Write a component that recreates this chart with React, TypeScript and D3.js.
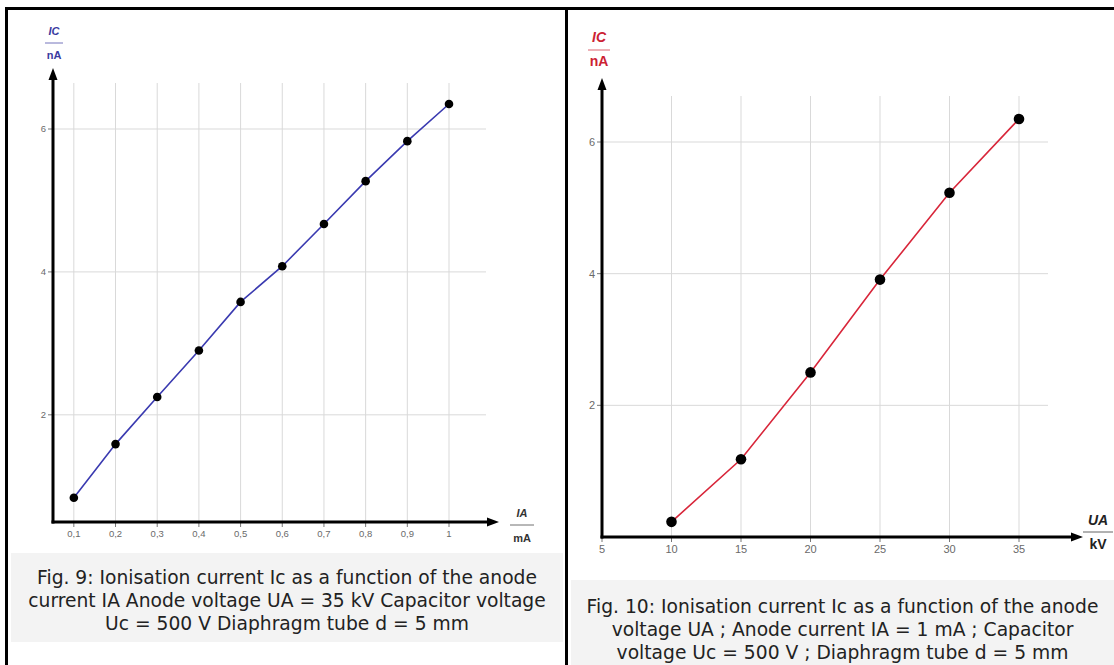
import * as d3 from 'd3';

// Fig. 9: ionisation current vs anode current
const anodeCurrent = [0.1, 0.2, 0.3, 0.4, 0.5, 0.6, 0.7, 0.8, 0.9, 1.0];
const ionCurrentA = [0.84, 1.59, 2.25, 2.9, 3.58, 4.08, 4.67, 5.27, 5.83, 6.35];
const ticksA = ['0,1', '0,2', '0,3', '0,4', '0,5', '0,6', '0,7', '0,8', '0,9', '1'];

// Fig. 10: ionisation current vs anode voltage
const anodeVoltage = [10, 15, 20, 25, 30, 35];
const ionCurrentB = [0.23, 1.18, 2.5, 3.91, 5.23, 6.35];
const ticksBx = [5, 10, 15, 20, 25, 30, 35];
const ticksY = [2, 4, 6];

const captionA = [
  'Fig. 9: Ionisation current Ic as a function of the anode',
  'current IA Anode voltage UA = 35 kV Capacitor voltage',
  'Uc = 500 V Diaphragm tube d = 5 mm',
];
const captionB = [
  'Fig. 10: Ionisation current Ic as a function of the anode',
  'voltage UA ; Anode current IA = 1 mA ; Capacitor',
  'voltage Uc = 500 V ; Diaphragm tube d = 5 mm',
];

const W = 1114;
const H = 665;

type Frac = { x: number; top: number; rule: number; bottom: number; size: number; half: number; color: string; a: string; b: string };

type ChartProps = {
  xs: number[];
  ys: number[];
  xTicks: number[];
  xTickText: string[];
  x: d3.ScaleLinear<number, number>;
  y: d3.ScaleLinear<number, number>;
  gridTop: number;
  gridRight: number;
  arrowTop: number;
  arrowRight: number;
  color: string;
  lineWidth: number;
  dotR: number;
  tickFont: number;
  yLabel: Frac;
  xLabel: Frac;
};

// unit label drawn as a fraction: "IC" over "nA"
const Fraction = ({ f }: { f: Frac }) => (
  <g fontFamily="Liberation Sans, Arial, sans-serif" fontWeight="bold" fill={f.color} textAnchor="middle">
    <text x={f.x} y={f.top} fontSize={f.size} fontStyle="italic">{f.a}</text>
    <line x1={f.x - f.half} x2={f.x + f.half} y1={f.rule} y2={f.rule} stroke={f.color} strokeOpacity={0.7} strokeWidth={1} />
    <text x={f.x} y={f.bottom} fontSize={f.size}>{f.b}</text>
  </g>
);

const Chart = (p: ChartProps) => {
  const [x0] = p.x.range();
  const [y0] = p.y.range();
  const line = d3.line<number>()
    .x((_, i) => p.x(p.xs[i]))
    .y((d) => p.y(d));
  return (
    <g>
      {/* grid */}
      {p.xTicks.filter((t) => p.x(t) > x0 + 2).map((t) => (
        <line key={'gx' + t} x1={p.x(t)} x2={p.x(t)} y1={p.gridTop} y2={y0} stroke="#d9d9d9" strokeWidth={1} />
      ))}
      {ticksY.map((t) => (
        <line key={'gy' + t} x1={x0} x2={p.gridRight} y1={p.y(t)} y2={p.y(t)} stroke="#d9d9d9" strokeWidth={1} />
      ))}
      {/* ticks */}
      {p.xTicks.map((t, i) => (
        <g key={'tx' + t}>
          <line x1={p.x(t)} x2={p.x(t)} y1={y0} y2={y0 + 5} stroke="#777" strokeWidth={1} />
          <text x={p.x(t)} y={y0 + 5 + p.tickFont} textAnchor="middle" fontSize={p.tickFont}
            fontFamily="Liberation Sans, Arial, sans-serif" fill="#6a6a6a">{p.xTickText[i]}</text>
        </g>
      ))}
      {ticksY.map((t) => (
        <g key={'ty' + t}>
          <line x1={x0 - 5} x2={x0} y1={p.y(t)} y2={p.y(t)} stroke="#777" strokeWidth={1} />
          <text x={x0 - 7} y={p.y(t) + p.tickFont * 0.35} textAnchor="end" fontSize={p.tickFont}
            fontFamily="Liberation Sans, Arial, sans-serif" fill="#6a6a6a">{t}</text>
        </g>
      ))}
      {/* axes with arrows */}
      <line x1={x0} x2={x0} y1={y0 + 1.5} y2={p.arrowTop + 8} stroke="#000" strokeWidth={3} />
      <path d={`M${x0},${p.arrowTop} L${x0 - 4.5},${p.arrowTop + 12} L${x0 + 4.5},${p.arrowTop + 12} Z`} fill="#000" />
      <line x1={x0 - 1.5} x2={p.arrowRight - 8} y1={y0} y2={y0} stroke="#000" strokeWidth={3} />
      <path d={`M${p.arrowRight},${y0} L${p.arrowRight - 12},${y0 - 4.5} L${p.arrowRight - 12},${y0 + 4.5} Z`} fill="#000" />
      {/* data */}
      <path d={line(p.ys) || ''} fill="none" stroke={p.color} strokeWidth={p.lineWidth} />
      {p.ys.map((v, i) => (
        <circle key={'pt' + i} cx={p.x(p.xs[i])} cy={p.y(v)} r={p.dotR} fill="#000" />
      ))}
      <Fraction f={p.yLabel} />
      <Fraction f={p.xLabel} />
    </g>
  );
};

const Caption = ({ lines, x, y, w, h, top }: { lines: string[]; x: number; y: number; w: number; h: number; top: number }) => (
  <g>
    <rect x={x} y={y} width={w} height={h} fill="#f3f3f3" />
    {lines.map((l, i) => (
      <text key={i} x={x + w / 2} y={top + i * 23} textAnchor="middle" fontSize={18.7}
        fontFamily="DejaVu Sans, sans-serif" fill="#222">{l}</text>
    ))}
  </g>
);

const App = () => {
  const xA = d3.scaleLinear().domain([0.05, 1.0]).range([53, 449]);
  const yA = d3.scaleLinear().domain([0.5, 6]).range([522, 129]);
  const xB = d3.scaleLinear().domain([5, 35]).range([602, 1019]);
  const yB = d3.scaleLinear().domain([0, 6]).range([537, 142]);

  return (
    <svg width={W} height={H} style={{ position: 'absolute', left: 0, top: 0, display: 'block', background: '#fff' }}>
      <Chart xs={anodeCurrent} ys={ionCurrentA} xTicks={anodeCurrent} xTickText={ticksA}
        x={xA} y={yA} gridTop={83} gridRight={486} arrowTop={68} arrowRight={499}
        color="#3a3ab0" lineWidth={1.6} dotR={4.3} tickFont={9.5}
        yLabel={{ x: 54, top: 35, rule: 43, bottom: 59, size: 11, half: 9, color: '#3a3aa0', a: 'IC', b: 'nA' }}
        xLabel={{ x: 522, top: 517, rule: 525, bottom: 542, size: 11, half: 12, color: '#333', a: 'IA', b: 'mA' }} />
      <Chart xs={anodeVoltage} ys={ionCurrentB} xTicks={ticksBx} xTickText={ticksBx.map(String)}
        x={xB} y={yB} gridTop={96} gridRight={1048} arrowTop={78} arrowRight={1083}
        color="#d8263a" lineWidth={1.6} dotR={5.3} tickFont={11}
        yLabel={{ x: 599, top: 42, rule: 50, bottom: 66, size: 14, half: 11, color: '#cc2233', a: 'IC', b: 'nA' }}
        xLabel={{ x: 1098, top: 525, rule: 532, bottom: 549, size: 14, half: 15, color: '#222', a: 'UA', b: 'kV' }} />
      <Caption lines={captionA} x={11} y={553} w={552} h={89} top={584} />
      <Caption lines={captionB} x={571} y={580} w={543} h={85} top={613} />
      {/* frame */}
      <rect x={5} y={7} width={W - 5} height={3} fill="#000" />
      <rect x={5} y={7} width={3} height={H - 7} fill="#000" />
      <rect x={565} y={7} width={3} height={H - 7} fill="#000" />
    </svg>
  );
};

export default App;
